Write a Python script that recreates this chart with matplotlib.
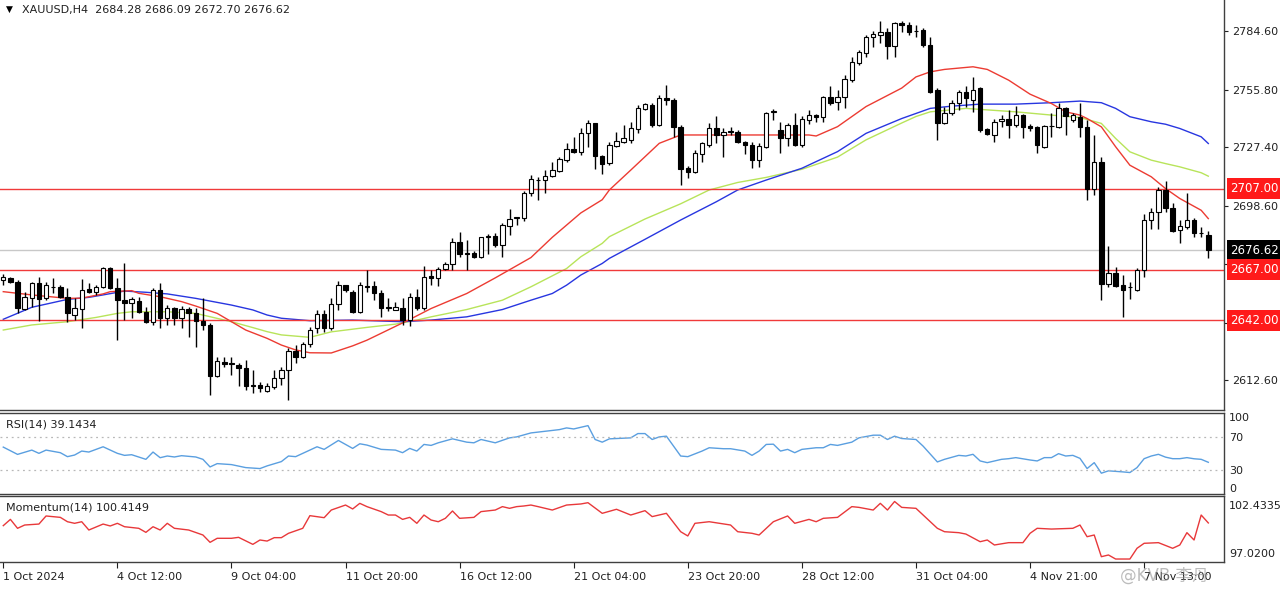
import matplotlib
matplotlib.use('Agg')
import matplotlib.pyplot as plt
import matplotlib.transforms as mtransforms
from matplotlib.ticker import FormatStrFormatter
import numpy as np

# ---- data (XAUUSD H4) ----
opens = [2662.0, 2663.1, 2661.1, 2647.7, 2652.9, 2660.3, 2652.9, 2658.5, 2658.7, 2653.7,
         2644.7, 2647.7, 2657.4, 2656.2, 2658.3, 2667.7, 2657.8, 2652.1, 2650.5, 2651.6,
         2646.3, 2641.4, 2657.0, 2643.1, 2648.0, 2643.1, 2647.5, 2645.5, 2641.9, 2639.8,
         2614.6, 2621.7, 2620.9, 2620.1, 2618.4, 2610.2, 2610.0, 2607.4, 2609.0, 2613.5,
         2617.6, 2627.1, 2624.2, 2630.2, 2638.1, 2645.1, 2638.1, 2649.9, 2659.4, 2656.1,
         2646.3, 2658.8, 2658.9, 2655.6, 2648.7, 2647.4, 2648.4, 2642.2, 2653.7, 2648.4,
         2664.0, 2662.7, 2667.6, 2669.8, 2680.5, 2675.3, 2675.2, 2673.4, 2683.3, 2683.8,
         2679.1, 2688.5, 2692.6, 2692.3, 2704.9, 2711.0, 2711.2, 2713.1, 2715.8, 2721.0,
         2726.5, 2725.1, 2734.5, 2739.1, 2723.0, 2719.4, 2728.0, 2730.1, 2730.9, 2736.2,
         2746.2, 2748.2, 2738.3, 2751.5, 2750.6, 2737.5, 2717.0, 2715.3, 2724.0, 2728.5,
         2736.7, 2733.4, 2735.2, 2735.0, 2729.8, 2728.5, 2721.1, 2727.6, 2744.6, 2735.8,
         2731.7, 2738.3, 2728.5, 2740.8, 2743.2, 2742.1, 2752.0, 2749.8, 2752.0, 2760.5,
         2769.0, 2774.0, 2781.9, 2782.7, 2784.3, 2777.3, 2788.4, 2787.6, 2784.8, 2785.1,
         2777.7, 2755.5, 2739.4, 2744.0, 2749.3, 2754.7, 2750.6, 2756.3, 2736.1, 2733.3,
         2740.4, 2741.2, 2738.2, 2743.2, 2737.8, 2737.1, 2727.6, 2737.8, 2737.4, 2746.5,
         2741.0, 2742.4, 2737.4, 2707.0, 2720.2, 2659.9, 2665.5, 2659.4, 2658.4, 2657.2,
         2666.8, 2691.7, 2695.5, 2706.2, 2697.2, 2686.5, 2688.1, 2691.7, 2685.2, 2684.28]
highs = [2665.0, 2663.6, 2662.0, 2656.2, 2661.1, 2663.6, 2661.1, 2662.8, 2659.5, 2657.8,
         2652.9, 2662.3, 2660.3, 2659.5, 2668.2, 2668.2, 2662.8, 2670.5, 2653.7, 2653.7,
         2648.8, 2657.8, 2660.3, 2649.6, 2648.8, 2649.1, 2648.5, 2648.0, 2652.9, 2640.6,
         2624.2, 2624.2, 2623.8, 2620.9, 2622.5, 2617.6, 2611.8, 2611.0, 2617.6, 2619.2,
         2628.3, 2629.9, 2631.6, 2639.0, 2647.1, 2647.4, 2653.2, 2661.4, 2659.7, 2657.0,
         2661.1, 2666.8, 2661.6, 2657.0, 2653.2, 2651.2, 2652.9, 2655.6, 2657.3, 2668.8,
         2666.8, 2668.5, 2670.6, 2682.4, 2685.4, 2681.6, 2676.3, 2683.3, 2684.6, 2684.9,
         2690.1, 2696.7, 2693.1, 2705.9, 2713.6, 2712.8, 2716.1, 2720.2, 2722.4, 2729.3,
         2732.5, 2737.0, 2740.8, 2739.4, 2723.5, 2730.1, 2735.0, 2738.3, 2740.0, 2748.2,
         2749.3, 2749.0, 2753.1, 2758.0, 2751.5, 2738.3, 2718.1, 2726.0, 2730.1, 2739.1,
         2742.8, 2736.7, 2737.2, 2735.8, 2730.4, 2730.1, 2729.6, 2744.9, 2746.0, 2740.0,
         2739.1, 2744.4, 2742.8, 2745.7, 2743.7, 2752.6, 2757.5, 2755.6, 2763.0, 2772.0,
         2775.3, 2782.7, 2784.8, 2789.7, 2786.0, 2789.2, 2789.7, 2789.2, 2787.6, 2785.9,
         2781.8, 2756.3, 2747.0, 2750.6, 2755.5, 2757.5, 2762.1, 2757.1, 2736.6, 2741.5,
         2743.2, 2745.6, 2747.6, 2743.7, 2738.7, 2737.8, 2738.2, 2744.0, 2749.3, 2747.0,
         2744.3, 2749.3, 2740.7, 2733.3, 2722.6, 2678.6, 2668.4, 2664.3, 2661.0, 2668.1,
         2694.7, 2697.2, 2707.9, 2710.8, 2700.0, 2691.7, 2704.6, 2692.7, 2688.1, 2686.09]
lows = [2659.5, 2660.3, 2645.5, 2647.2, 2648.8, 2641.9, 2652.1, 2655.4, 2652.9, 2641.4,
        2642.2, 2638.1, 2655.4, 2654.6, 2657.8, 2657.4, 2632.4, 2642.2, 2643.1, 2645.5,
        2640.6, 2639.8, 2638.1, 2639.8, 2639.8, 2638.1, 2634.0, 2629.1, 2637.3, 2605.3,
        2614.3, 2619.2, 2615.1, 2609.7, 2607.7, 2606.1, 2606.9, 2606.9, 2608.1, 2610.2,
        2602.8, 2620.9, 2623.4, 2629.0, 2635.6, 2636.4, 2637.2, 2647.1, 2656.1, 2645.5,
        2645.5, 2656.1, 2652.0, 2643.8, 2646.8, 2647.1, 2639.7, 2639.2, 2647.4, 2647.4,
        2659.4, 2658.9, 2666.8, 2667.1, 2673.4, 2667.1, 2672.6, 2672.6, 2675.0, 2678.3,
        2673.1, 2684.1, 2689.0, 2691.2, 2703.3, 2701.6, 2704.6, 2712.8, 2715.3, 2720.2,
        2724.6, 2723.5, 2727.6, 2716.4, 2714.1, 2718.6, 2727.6, 2729.3, 2729.3, 2734.2,
        2745.7, 2737.5, 2737.8, 2748.2, 2732.2, 2708.7, 2712.0, 2714.8, 2720.2, 2727.6,
        2729.3, 2722.7, 2733.4, 2729.3, 2723.9, 2717.0, 2717.4, 2726.8, 2740.8, 2724.4,
        2728.0, 2728.0, 2727.6, 2738.8, 2740.0, 2740.0, 2748.2, 2745.7, 2746.5, 2759.7,
        2767.9, 2772.0, 2776.6, 2778.9, 2770.7, 2771.7, 2784.3, 2782.7, 2781.9, 2776.9,
        2754.0, 2730.9, 2738.7, 2743.2, 2745.6, 2747.0, 2744.8, 2735.0, 2733.3, 2730.0,
        2737.4, 2731.7, 2737.4, 2731.7, 2735.5, 2724.3, 2727.2, 2732.2, 2736.6, 2733.3,
        2739.9, 2732.5, 2701.3, 2703.7, 2652.3, 2658.6, 2658.6, 2643.8, 2652.8, 2656.6,
        2663.5, 2687.3, 2687.3, 2695.5, 2685.7, 2680.2, 2687.3, 2682.9, 2682.9, 2672.70]
closes = [2663.5, 2661.1, 2648.0, 2653.7, 2660.3, 2652.6, 2659.5, 2658.3, 2653.7, 2645.5,
          2648.0, 2657.0, 2655.9, 2658.3, 2667.7, 2657.8, 2652.1, 2650.5, 2652.6, 2646.3,
          2641.4, 2657.0, 2643.1, 2648.0, 2643.1, 2647.5, 2645.5, 2641.7, 2639.8, 2614.6,
          2622.2, 2620.6, 2620.5, 2618.4, 2609.9, 2609.7, 2608.6, 2609.7, 2613.5, 2617.6,
          2627.1, 2624.2, 2630.2, 2637.5, 2645.1, 2638.1, 2649.9, 2659.7, 2657.0, 2646.3,
          2659.4, 2658.4, 2655.6, 2648.4, 2648.4, 2648.7, 2642.2, 2653.7, 2648.4, 2663.5,
          2662.7, 2667.6, 2669.8, 2680.5, 2675.0, 2675.0, 2673.4, 2682.9, 2683.8, 2679.1,
          2689.0, 2691.8, 2692.9, 2704.9, 2711.5, 2711.3, 2713.1, 2716.1, 2721.4, 2726.3,
          2725.1, 2734.5, 2739.1, 2723.0, 2719.1, 2728.5, 2730.4, 2731.7, 2736.7, 2746.9,
          2748.7, 2738.3, 2751.5, 2750.6, 2737.5, 2716.5, 2715.3, 2724.3, 2729.3, 2736.7,
          2733.4, 2735.0, 2735.0, 2730.1, 2728.5, 2721.1, 2728.0, 2744.1, 2745.4, 2731.7,
          2738.3, 2728.5, 2741.1, 2743.2, 2742.4, 2752.0, 2749.3, 2752.0, 2760.8, 2769.5,
          2774.5, 2781.5, 2783.2, 2784.3, 2777.3, 2788.8, 2787.6, 2784.3, 2784.6, 2777.7,
          2754.7, 2739.4, 2744.0, 2749.3, 2754.7, 2751.4, 2755.8, 2735.8, 2734.1, 2739.9,
          2741.5, 2738.2, 2743.2, 2737.4, 2736.6, 2728.4, 2737.8, 2737.7, 2746.5, 2742.7,
          2743.2, 2737.4, 2707.0, 2720.2, 2660.2, 2665.5, 2658.9, 2657.2, 2658.6, 2667.1,
          2691.7, 2695.5, 2706.2, 2697.2, 2686.2, 2688.5, 2691.7, 2684.9, 2685.0, 2676.62]

# moving averages (bar index, price)
ma_red_bar = [0, 4, 9, 11, 14, 15, 18, 19, 22, 25, 27, 30, 32, 34, 37, 39, 41, 43, 46, 49,
              51, 57, 60, 65, 69, 72, 74, 77, 79, 81, 84, 85, 88, 90, 92, 95, 100, 105, 110,
              113, 114, 117, 121, 126, 128, 130, 132, 136, 138, 141, 144, 147, 149, 151, 152,
              154, 156, 158, 161, 163, 165, 168, 169]
ma_red = [2656.2, 2654.6, 2652.9, 2653.0, 2655.1, 2656.2, 2656.7, 2655.4, 2653.7, 2651.3,
          2649.1, 2645.5, 2641.4, 2637.3, 2633.2, 2629.9, 2627.5, 2626.1, 2626.0, 2629.5,
          2632.3, 2642.5, 2647.9, 2655.3, 2663.0, 2669.0, 2673.0, 2683.0, 2689.0, 2695.0,
          2701.5, 2706.3, 2716.1, 2722.7, 2729.3, 2733.4, 2733.4, 2733.4, 2733.4, 2733.4,
          2732.9, 2737.5, 2747.4, 2756.5, 2762.0, 2764.5, 2765.7, 2767.0, 2765.7, 2760.4,
          2753.5, 2748.9, 2744.8, 2743.2, 2741.5, 2737.4, 2727.6, 2718.5, 2712.8, 2707.0,
          2702.1, 2696.3, 2692.2]
ma_blue_bar = [0, 4, 9, 12, 14, 17, 20, 23, 27, 32, 35, 37, 39, 43, 49, 56, 60, 65, 70, 74,
               77, 79, 81, 84, 85, 90, 95, 100, 103, 107, 112, 117, 121, 126, 128, 130, 133,
               137, 142, 147, 151, 154, 156, 158, 161, 163, 165, 168, 169]
ma_blue = [2642.6, 2648.5, 2652.4, 2653.4, 2654.6, 2656.5, 2655.9, 2655.1, 2652.9, 2649.6,
           2647.2, 2644.7, 2643.1, 2641.9, 2642.2, 2641.4, 2642.2, 2643.8, 2647.4, 2652.0,
           2655.3, 2659.4, 2664.4, 2670.1, 2672.6, 2682.0, 2691.5, 2700.5, 2706.3, 2711.2,
           2717.0, 2725.2, 2734.2, 2741.5, 2744.0, 2746.5, 2747.6, 2748.6, 2748.6, 2749.3,
           2750.1, 2749.3, 2746.5, 2742.4, 2739.9, 2738.7, 2736.6, 2732.5, 2729.2]
ma_green_bar = [0, 4, 9, 13, 16, 18, 23, 27, 32, 35, 37, 39, 43, 46, 51, 55, 58, 60, 65, 70,
                74, 79, 81, 84, 85, 90, 95, 99, 103, 107, 112, 117, 121, 126, 128, 130, 135,
                137, 142, 147, 151, 154, 156, 158, 161, 163, 165, 168, 169]
ma_green = [2637.3, 2639.8, 2641.4, 2643.5, 2645.5, 2646.3, 2646.3, 2645.5, 2641.4, 2638.5,
            2636.5, 2634.9, 2633.7, 2636.4, 2638.6, 2640.2, 2642.2, 2643.8, 2647.4, 2652.0,
            2658.6, 2667.6, 2673.4, 2680.0, 2683.3, 2692.0, 2699.5, 2706.3, 2710.0, 2712.5,
            2716.5, 2722.5, 2731.0, 2739.3, 2742.5, 2744.8, 2746.5, 2746.0, 2744.8, 2743.2,
            2742.0, 2739.1, 2731.7, 2725.1, 2721.0, 2719.3, 2717.7, 2714.8, 2713.1]

rsi_bar = [0, 2, 4, 5, 6, 8, 9, 10, 11, 12, 14, 16, 17, 18, 20, 21, 22, 23, 24, 25, 27, 28,
           29, 30, 32, 34, 36, 37, 39, 40, 41, 44, 45, 47, 49, 50, 51, 53, 55, 56, 57, 58,
           59, 60, 61, 63, 65, 66, 67, 69, 71, 72, 74, 76, 78, 79, 80, 82, 83, 84, 85, 88,
           89, 90, 91, 92, 93, 95, 96, 98, 99, 101, 102, 104, 105, 106, 107, 108, 109, 110,
           111, 112, 114, 115, 116, 117, 119, 120, 122, 123, 124, 125, 126, 128, 129, 131,
           132, 134, 135, 136, 137, 138, 140, 141, 142, 144, 145, 146, 147, 148, 149, 150,
           151, 152, 153, 154, 155, 157, 158, 159, 160, 161, 162, 163, 164, 165, 166, 167,
           168, 169]
rsi_val = [57.9, 48.9, 54.2, 50.2, 54.2, 51.0, 46.1, 48.1, 53.0, 51.8, 58.3, 50.2, 47.7,
           48.5, 42.8, 51.8, 44.8, 46.9, 45.7, 47.3, 45.7, 42.8, 33.4, 37.5, 36.3, 32.6,
           31.4, 34.7, 40.0, 46.9, 46.1, 58.3, 55.1, 66.1, 56.3, 62.0, 60.4, 55.1, 54.2,
           51.0, 56.3, 53.0, 61.2, 60.0, 63.2, 68.1, 64.0, 63.2, 67.3, 63.2, 69.3, 70.5,
           75.4, 77.5, 79.5, 81.6, 80.3, 84.4, 67.3, 64.0, 68.1, 69.3, 74.6, 74.6, 67.3,
           70.5, 71.4, 46.9, 46.1, 53.0, 57.1, 55.9, 55.9, 53.0, 47.7, 53.0, 61.2, 61.5,
           53.0, 55.1, 51.0, 55.1, 57.1, 57.1, 61.2, 60.0, 64.0, 69.3, 72.6, 72.6, 67.3,
           71.4, 68.5, 67.3, 59.1, 39.6, 42.8, 47.7, 46.9, 49.0, 40.8, 38.7, 42.8, 43.6,
           44.9, 42.0, 40.8, 44.9, 44.9, 49.8, 46.9, 47.7, 44.0, 31.4, 38.7, 25.7, 28.6,
           27.3, 26.5, 32.6, 43.6, 46.9, 49.0, 45.5, 43.6, 43.6, 44.9, 43.5, 42.8, 39.1434]

mom_bar = [0, 1, 2, 3, 5, 6, 8, 9, 10, 11, 12, 14, 15, 16, 17, 19, 20, 21, 22, 23, 24, 26,
           28, 29, 30, 32, 33, 35, 36, 37, 38, 39, 40, 42, 43, 45, 46, 48, 49, 50, 51, 53,
           54, 55, 56, 57, 58, 59, 60, 61, 62, 63, 64, 66, 67, 69, 70, 71, 72, 73, 74, 75,
           77, 79, 81, 82, 84, 86, 88, 90, 91, 93, 95, 96, 97, 99, 102, 103, 105, 106, 108,
           110, 111, 113, 114, 115, 117, 119, 120, 122, 123, 124, 125, 126, 128, 131, 132,
           134, 135, 137, 138, 139, 141, 143, 144, 145, 147, 150, 151, 152, 153, 154, 155,
           156, 158, 159, 160, 162, 164, 165, 166, 167, 168, 169]
mom_val = [100.16, 100.75, 99.91, 100.22, 100.31, 101.07, 100.94, 100.53, 100.38, 100.53,
           99.75, 100.31, 100.13, 100.38, 100.06, 99.91, 99.53, 100.06, 99.75, 100.38, 99.91,
           99.75, 99.28, 98.59, 98.97, 98.97, 99.06, 98.40, 98.81, 98.71, 99.03, 99.03, 99.44,
           99.91, 101.10, 100.91, 101.63, 102.10, 101.73, 102.26, 101.95, 101.48, 101.16,
           101.16, 100.75, 100.94, 100.38, 101.16, 100.69, 100.53, 100.85, 101.54, 100.85,
           100.94, 101.48, 101.63, 101.95, 101.79, 101.95, 102.01, 102.10, 101.95, 101.63,
           102.10, 102.20, 102.32, 101.32, 101.70, 101.16, 101.57, 101.01, 101.32, 99.59,
           99.19, 100.38, 100.53, 100.22, 99.59, 99.44, 99.28, 100.53, 101.07, 100.38, 100.75,
           100.53, 100.85, 100.94, 101.95, 101.88, 101.63, 102.26, 101.63, 102.4335, 101.88,
           101.79, 99.91, 99.59, 99.50, 99.37, 98.65, 98.81, 98.34, 98.56, 98.56, 99.44,
           99.91, 99.84, 99.91, 100.22, 99.12, 99.28, 97.24, 97.40, 97.02, 97.02, 98.03,
           98.50, 98.56, 98.03, 98.34, 99.50, 98.81, 101.16, 100.4149]

x_tick_bars = [0, 16, 32, 48, 64, 80, 96, 112, 128, 144, 160]
x_tick_labels = ['1 Oct 2024', '4 Oct 12:00', '9 Oct 04:00', '11 Oct 20:00', '16 Oct 12:00',
                 '21 Oct 04:00', '23 Oct 20:00', '28 Oct 12:00', '31 Oct 04:00',
                 '4 Nov 21:00', '7 Nov 13:00']
price_ticks = [2784.6, 2755.8, 2727.4, 2698.6, 2669.8, 2641.0, 2612.6]
levels = [2707.0, 2667.0, 2642.0]
last_price = 2676.62

# ---- figure ----
W, H = 1280, 597
fig = plt.figure(figsize=(W / 100, H / 100), dpi=100)
fig.patch.set_facecolor('white')


def panel(top, bottom):
    return fig.add_axes([0, 1 - bottom / H, 1224 / W, (bottom - top) / H])


ax = panel(0, 410)
ax_rsi = panel(413, 494)
ax_mom = panel(496, 562)

FS = 8
TXT = '#202020'
for a in (ax, ax_rsi, ax_mom):
    a.set_xlim(-0.46, 171.2)
    a.spines['left'].set_visible(False)
    for s in ('top', 'bottom', 'right'):
        a.spines[s].set_color('#404040')
        a.spines[s].set_linewidth(1.0)
    a.yaxis.tick_right()
    a.tick_params(axis='both', labelsize=FS, colors=TXT, direction='out')
    a.set_xticks([])
ax.spines['top'].set_visible(False)

# main price panel
bars = np.arange(len(closes))
o = np.array(opens)
c = np.array(closes)
ax.set_ylim(2597.9, 2799.9)
ax.vlines(bars, lows, highs, color='black', lw=1, zorder=3)
ax.bar(bars, np.abs(c - o), bottom=np.minimum(o, c), width=0.62,
       color=np.where(c >= o, 'white', 'black'), edgecolor='black', lw=0.8, zorder=4)
ax.plot(ma_green_bar, ma_green, color='#b8e45a', lw=1, zorder=2)
ax.plot(ma_blue_bar, ma_blue, color='#2836e0', lw=1, zorder=2)
ax.plot(ma_red_bar, ma_red, color='#ec3b32', lw=1, zorder=2)

ax.set_yticks(price_ticks)
ax.yaxis.set_major_formatter(FormatStrFormatter('%.2f'))
ax.tick_params(axis='y', length=3, pad=3)

# boxed price labels on the right scale
trans = mtransforms.blended_transform_factory(ax.transAxes, ax.transData)
box_x = 1 + 6.5 / 1224
ax.axhline(last_price, color='#c8c8c8', lw=1, zorder=1)
ax.text(box_x, last_price, f'{last_price:.2f}', transform=trans, ha='left', va='center',
        color='white', fontsize=FS + 0.5, clip_on=False, zorder=6,
        bbox=dict(boxstyle='square,pad=0.32', fc='black', ec='none'))
for lv in levels:
    ax.axhline(lv, color='#f03a3a', lw=1, zorder=2)
    ax.text(box_x, lv, f'{lv:.2f}', transform=trans, ha='left', va='center',
            color='white', fontsize=FS + 0.5, clip_on=False, zorder=7,
            bbox=dict(boxstyle='square,pad=0.32', fc='#ff1a1a', ec='none'))

ax.text(0.005, 0.976, '\u25BC', transform=ax.transAxes, fontsize=6.5, color='black',
        va='center', ha='left')
ax.text(0.018, 0.976, 'XAUUSD,H4  2684.28 2686.09 2672.70 2676.62', transform=ax.transAxes,
        fontsize=FS, color=TXT, va='center', ha='left')

# RSI panel
ax_rsi.set_ylim(0, 100)
ax_rsi.plot(rsi_bar, rsi_val, color='#5a9fe0', lw=1)
for lv in (70, 30):
    ax_rsi.axhline(lv, color='#b8b8b8', lw=0.9, ls=(0, (1.5, 3)))
ax_rsi.set_yticks([70, 30])
ax_rsi.tick_params(axis='y', length=0, pad=4)
rtr = mtransforms.blended_transform_factory(ax_rsi.transAxes, ax_rsi.transData)
ax_rsi.text(1.004, 100, '100', transform=rtr, ha='left', va='top', fontsize=FS, color=TXT,
            clip_on=False)
ax_rsi.text(1.004, 0, '0', transform=rtr, ha='left', va='bottom', fontsize=FS, color=TXT,
            clip_on=False)
ax_rsi.text(0.005, 0.86, 'RSI(14) 39.1434', transform=ax_rsi.transAxes, fontsize=FS,
            color=TXT, va='center', ha='left')

# Momentum panel
mom_max = max(mom_val)
mom_min = min(mom_val)
ax_mom.set_ylim(96.74, 102.95)
ax_mom.plot(mom_bar, mom_val, color='#e8383a', lw=1)
ax_mom.set_yticks([])
mtr = mtransforms.blended_transform_factory(ax_mom.transAxes, ax_mom.transData)
ax_mom.text(1.004, mom_max, f'{mom_max:.4f}', transform=mtr, ha='left', va='top',
            fontsize=FS, color=TXT, clip_on=False)
ax_mom.text(1.004, mom_min, f'{mom_min:.4f}', transform=mtr, ha='left', va='bottom',
            fontsize=FS, color=TXT, clip_on=False)
ax_mom.text(0.005, 0.83, 'Momentum(14) 100.4149', transform=ax_mom.transAxes, fontsize=FS,
            color=TXT, va='center', ha='left')
ax_mom.set_xticks(x_tick_bars)
ax_mom.set_xticklabels(x_tick_labels, ha='left')
ax_mom.tick_params(axis='x', length=4, pad=3)

# watermark
fig.text(0.875, 0.035, '@KVB 李丹', fontsize=12, color='#909090', alpha=0.6,
         family=['DejaVu Sans', 'Noto Sans CJK SC'], ha='left', va='center')

fig.savefig('out.png', dpi=100)
